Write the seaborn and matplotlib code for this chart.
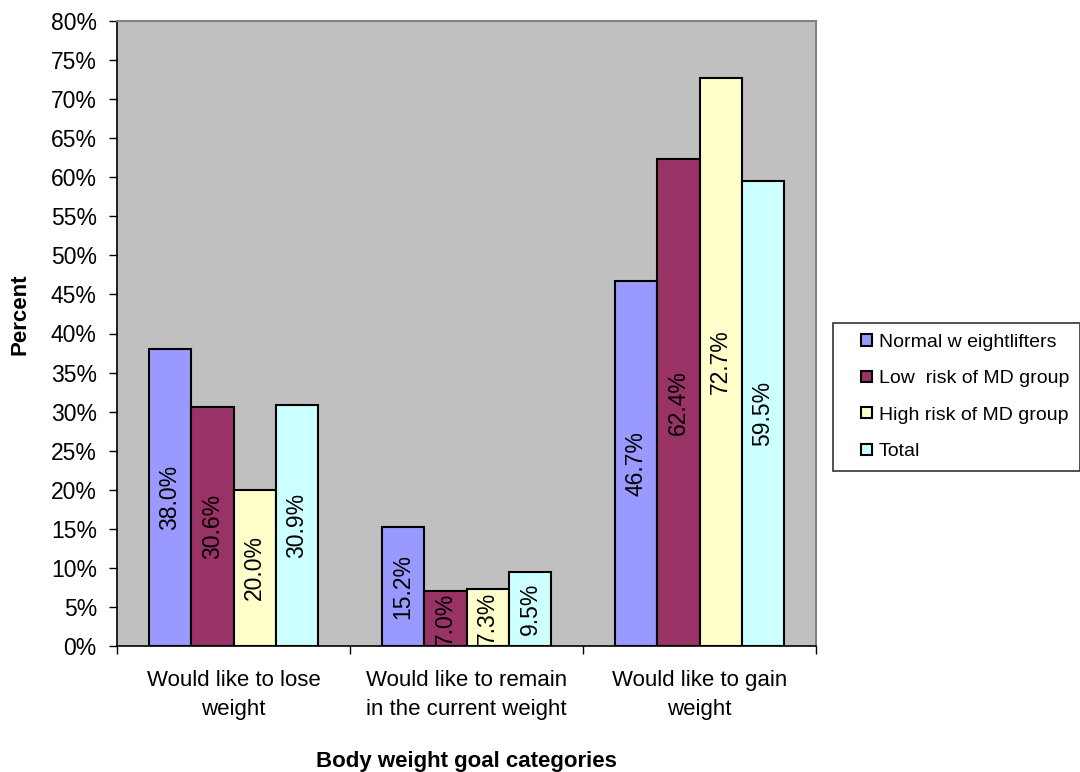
import matplotlib
matplotlib.use("Agg")
import matplotlib.pyplot as plt
import seaborn as sns
import pandas as pd
from matplotlib.ticker import MultipleLocator, FixedLocator, FuncFormatter
from matplotlib.legend_handler import HandlerPatch
from matplotlib.patches import Rectangle

categories = ["Would like to lose\nweight", "Would like to remain\nin the current weight", "Would like to gain\nweight"]
groups = ["Normal w eightlifters", "Low  risk of MD group", "High risk of MD group", "Total"]
normal = [38.0, 15.2, 46.7]
low_risk = [30.6, 7.0, 62.4]
high_risk = [20.0, 7.3, 72.7]
total = [30.9, 9.5, 59.5]
colors = ["#9999FF", "#993366", "#FFFFCC", "#CCFFFF"]

rows = []
for g, vals in zip(groups, [normal, low_risk, high_risk, total]):
    for c, v in zip(categories, vals):
        rows.append({"category": c, "group": g, "value": v})
df = pd.DataFrame(rows)

sns.set_theme(style="white")
plt.rcParams["font.family"] = ["Liberation Sans", "DejaVu Sans"]
plt.rcParams["text.color"] = "black"
plt.rcParams["axes.labelcolor"] = "black"
plt.rcParams["xtick.color"] = "black"
plt.rcParams["ytick.color"] = "black"

fig = plt.figure(figsize=(10.8, 7.72), dpi=100)
ax = fig.add_axes([117/1080, 1 - 646/772, (816-117)/1080, (646-21)/772])
ax.set_facecolor("#C0C0C0")

sns.barplot(data=df, x="category", y="value", hue="group", order=categories,
            hue_order=groups, palette=colors, width=0.727, edgecolor="black",
            linewidth=1.5, ax=ax, saturation=1, legend=True)

for cont in ax.containers:
    ax.bar_label(cont, labels=[f"{v:.1f}%" for v in cont.datavalues], label_type="center",
                 rotation=90, fontsize=16.5, color="black")

ax.set_ylim(0, 80)
ax.set_xlim(-0.5, 2.5)
ax.yaxis.set_major_locator(MultipleLocator(5))
ax.yaxis.set_major_formatter(FuncFormatter(lambda v, p: f"{v:.0f}%"))
ax.tick_params(axis="y", which="major", direction="out", length=6, width=1, color="black",
               labelcolor="black", labelsize=16.5, pad=8.5, left=True)
ax.xaxis.set_minor_locator(FixedLocator([-0.5, 0.5, 1.5, 2.5]))
ax.tick_params(axis="x", which="major", length=0, labelsize=16, labelcolor="black", pad=17)
ax.tick_params(axis="x", which="minor", direction="out", length=6, width=1, color="black", bottom=True)
for lab in ax.get_xticklabels():
    lab.set_linespacing(1.5)

ax.set_xlabel("Body weight goal categories", fontsize=16, fontweight="bold", color="black")
ax.set_ylabel("Percent", fontsize=16, fontweight="bold", color="black")
ax.xaxis.set_label_coords(0.5, -(761-646)/625, transform=ax.transAxes)
ax.xaxis.label.set_va("center")
ax.yaxis.set_label_coords(-(117-20)/699, (646-314)/625, transform=ax.transAxes)
ax.yaxis.label.set_va("center")

for side in ["top", "right"]:
    ax.spines[side].set_color("#808080")
    ax.spines[side].set_linewidth(1.5)
for side in ["left", "bottom"]:
    ax.spines[side].set_color("black")
    ax.spines[side].set_linewidth(1.2)


def square_patch(legend, orig_handle, xdescent, ydescent, width, height, fontsize):
    s = 0.58 * fontsize
    return Rectangle((-xdescent + width - s, -ydescent + (height - s) / 2), s, s)


handles, labels = ax.get_legend_handles_labels()
ax.get_legend().remove()
leg = fig.legend(handles, labels, loc="upper left",
                 bbox_to_anchor=(833/1080, 1 - 323/772), fontsize=14, frameon=True,
                 fancybox=False, edgecolor="black", handlelength=1.45, handleheight=0.6,
                 handletextpad=0.35, labelspacing=1.0, borderpad=0.55, borderaxespad=0,
                 handler_map={h: HandlerPatch(patch_func=square_patch) for h in handles})
leg.get_frame().set_linewidth(1.2)
for t in leg.get_texts():
    t.set_color("black")

fig.savefig("out.png", dpi=100, facecolor="white")
